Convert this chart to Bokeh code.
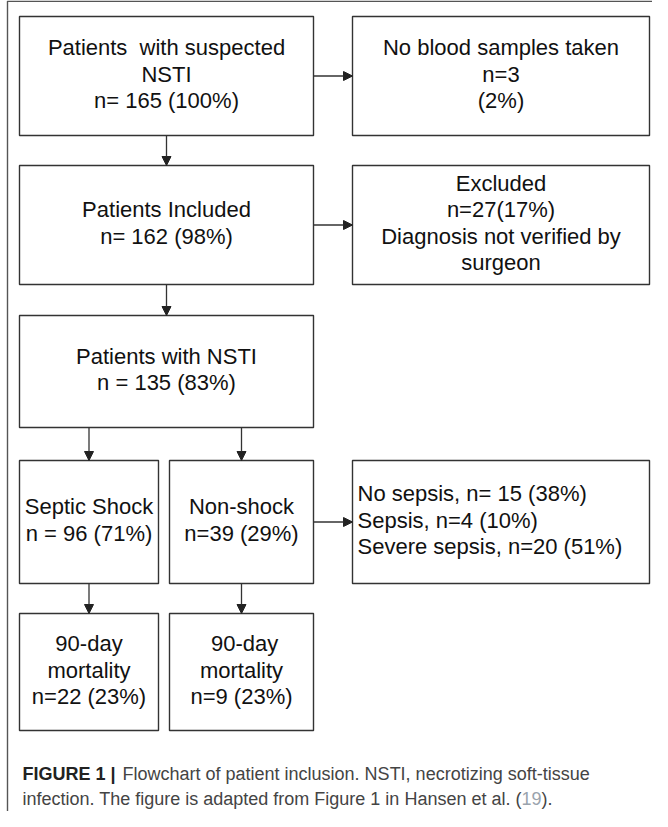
from bokeh.plotting import figure
from bokeh.models import Range1d, Arrow, NormalHead, ColumnDataSource
from bokeh.core.properties import value
from bokeh.embed import file_html
from bokeh.resources import INLINE

NBSP = "\u00a0"

# ---- content ----
box_labels = [
    ["Patients" + NBSP + " with suspected", "NSTI", "n= 165 (100%)"],
    ["No blood samples taken", "n=3", "(2%)"],
    ["Patients Included", "n= 162 (98%)"],
    ["Excluded", "n=27(17%)", "Diagnosis not verified by", "surgeon"],
    ["Patients with NSTI", "n = 135 (83%)"],
    ["Septic Shock", "n = 96 (71%)"],
    ["Non-shock", "n=39 (29%)"],
    ["No sepsis, n= 15 (38%)", "Sepsis, n=4 (10%)", "Severe sepsis, n=20 (51%)"],
    ["90-day", "mortality", "n=22 (23%)"],
    [NBSP + "90-day", "mortality", "n=9 (23%)"],
]
box_align = ["center"] * 7 + ["left"] + ["center"] * 2

# flow edges: (from box, to box, direction)
edges = [(0, 1, "right"), (0, 2, "down"), (2, 3, "right"), (2, 4, "down"),
         (4, 5, "down"), (4, 6, "down"), (6, 7, "right"), (5, 8, "down"), (6, 9, "down")]

caption_bold = "FIGURE 1 |"
caption_line1 = "Flowchart of patient inclusion. NSTI, necrotizing soft-tissue"
caption_line2 = ["infection. The figure is adapted from Figure 1 in Hansen et al. (", "19", ")."]

# ---- layout (pixel geometry of the boxes) ----
box_left = [27, 360, 27, 360, 27, 27, 177, 360, 27, 177]
box_right = [321, 657, 321, 657, 321, 166, 321, 657, 166, 321]
box_top = [24, 24, 173, 173, 323, 468, 468, 468, 621, 621]
box_bottom = [143, 143, 292, 292, 435, 591, 591, 591, 738, 738]

LH = 26.5
FONT = "Liberation Sans"

p = figure(width=652, height=811, output_backend="svg", toolbar_location=None,
           x_range=Range1d(8, 660), y_range=Range1d(819, 8), min_border=0)
p.axis.visible = False
p.grid.visible = False
p.outline_line_color = None
p.background_fill_color = "white"
p.border_fill_color = "white"

# outer frame (left and top edges)
p.line(x=[15, 15, 660], y=[819, 8.7, 8.7], line_color="#555555", line_width=1.4)

# boxes
src = ColumnDataSource(dict(left=box_left, right=box_right, top=box_top, bottom=box_bottom))
p.quad(left="left", right="right", top="top", bottom="bottom", source=src,
       fill_color="white", line_color="#333333", line_width=1.4)

# texts
tx, ty, tt, ta = [], [], [], []
for i, lines in enumerate(box_labels):
    cy = (box_top[i] + box_bottom[i]) / 2
    n = len(lines)
    for j, s in enumerate(lines):
        if box_align[i] == "center":
            x = (box_left[i] + box_right[i]) / 2
        else:
            x = box_left[i] + 5
        tx.append(x)
        ty.append(cy + (j - (n - 1) / 2) * LH - 2)
        tt.append(s)
        ta.append(box_align[i])
tsrc = ColumnDataSource(dict(x=tx, y=ty, text=tt, align=ta))
p.text(x="x", y="y", text="text", text_align="align", source=tsrc,
       text_baseline="middle", text_font=value(FONT), text_font_size="22px",
       text_color="#111111")

# arrows
for a, b, d in edges:
    if d == "right":
        cy = (box_top[a] + box_bottom[a]) / 2
        xs, ys, xe, ye = box_right[a], cy, box_left[b], cy
    else:
        cx = (box_left[b] + box_right[b]) / 2
        xs, ys, xe, ye = cx, box_bottom[a], cx, box_top[b]
    p.add_layout(Arrow(end=NormalHead(size=9, fill_color="#222222", line_color="#222222", line_width=1),
                       x_start=xs, y_start=ys, x_end=xe, y_end=ye,
                       line_color="#333333", line_width=1.3))

# caption
p.text(x=[30], y=[781], text=[caption_bold], text_baseline="middle",
       text_font=value(FONT), text_font_size="18px", text_font_style="bold",
       text_color="#222222")
p.text(x=[130], y=[781], text=[caption_line1], text_baseline="middle",
       text_font=value(FONT), text_font_size="18px", text_color="#444444")
p.text(x=[30], y=[806], text=[caption_line2[0]], text_baseline="middle",
       text_font=value(FONT), text_font_size="18px", text_color="#444444")
p.text(x=[529], y=[806], text=[caption_line2[1]], text_baseline="middle",
       text_font=value(FONT), text_font_size="18px", text_color="#9aa3ad")
p.text(x=[549], y=[806], text=[caption_line2[2]], text_baseline="middle",
       text_font=value(FONT), text_font_size="18px", text_color="#444444")

open("out.html", "w").write(file_html(p, INLINE))
